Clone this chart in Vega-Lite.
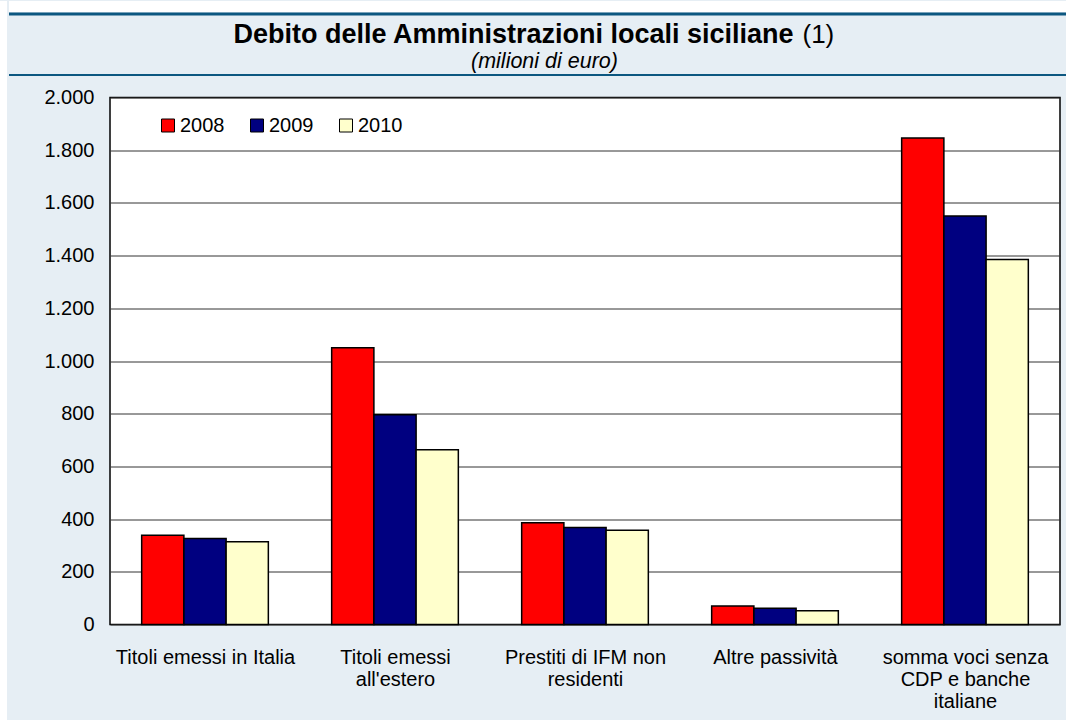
{
  "$schema": "https://vega.github.io/schema/vega-lite/v6.json",
  "background": "#E6EEF4",
  "padding": 0,
  "config": {"font": "Liberation Sans", "view": {"stroke": null}},
  "spacing": 0,
  "resolve": {"scale": {"color": "independent"}, "legend": {"color": "independent"}},
  "hconcat": [
    {
      "width": 7,
      "height": 720,
      "view": {"fill": "white", "stroke": null},
      "data": {"values": [{}]},
      "mark": {"type": "text", "text": ""},
      "encoding": {}
    },
    {
      "spacing": 10.5,
      "resolve": {"scale": {"color": "independent"}, "legend": {"color": "independent"}},
      "vconcat": [
        {
          "spacing": 0,
          "vconcat": [
            {
              "width": 1059,
              "height": 11,
              "view": {"fill": "white", "stroke": null},
              "data": {"values": [{}]},
              "mark": {"type": "text", "text": ""},
              "encoding": {}
            },
            {
              "width": 1059,
              "height": 61,
              "view": {"stroke": null},
              "data": {"values": [{}]},
              "layer": [
                {
                  "mark": {"type": "rule", "color": "#0C5780", "strokeWidth": 3},
                  "encoding": {"y": {"datum": 1, "type": "quantitative", "scale": {"domain": [0, 1]}, "axis": null}}
                },
                {
                  "mark": {"type": "rule", "color": "#0C5780", "strokeWidth": 2},
                  "encoding": {"y": {"datum": 0, "type": "quantitative", "axis": null}}
                },
                {
                  "mark": {"type": "text", "text": "Debito delle Amministrazioni locali siciliane", "fontWeight": "bold", "fontSize": 27, "dx": -25, "dy": -10, "baseline": "middle", "color": "black"},
                  "encoding": {}
                },
                {
                  "mark": {"type": "text", "text": "(1)", "fontSize": 26, "align": "left", "dx": 264, "dy": -10, "baseline": "middle", "color": "black"},
                  "encoding": {}
                },
                {
                  "mark": {"type": "text", "text": "(milioni di euro)", "fontStyle": "italic", "fontSize": 21.5, "dx": 6, "dy": 17, "baseline": "middle", "color": "black"},
                  "encoding": {}
                }
              ]
            }
          ]
        },
        {
          "spacing": 0,
          "resolve": {"scale": {"color": "independent"}, "legend": {"color": "independent"}},
          "hconcat": [
            {
              "width": 34,
              "height": 1,
              "view": {"stroke": null},
              "data": {"values": [{}]},
              "mark": {"type": "text", "text": ""},
              "encoding": {}
            },
            {
              "width": 950,
              "height": 527,
              "view": {"fill": "white", "stroke": "black", "strokeWidth": 1.5},
              "data": {
                "values": [
                  {"cat": "Titoli emessi in Italia", "year": "2008", "v": 339},
                  {"cat": "Titoli emessi in Italia", "year": "2009", "v": 326},
                  {"cat": "Titoli emessi in Italia", "year": "2010", "v": 314},
                  {"cat": "Titoli emessi|all'estero", "year": "2008", "v": 1050},
                  {"cat": "Titoli emessi|all'estero", "year": "2009", "v": 796},
                  {"cat": "Titoli emessi|all'estero", "year": "2010", "v": 663},
                  {"cat": "Prestiti di IFM non|residenti", "year": "2008", "v": 386},
                  {"cat": "Prestiti di IFM non|residenti", "year": "2009", "v": 368},
                  {"cat": "Prestiti di IFM non|residenti", "year": "2010", "v": 358},
                  {"cat": "Altre passività", "year": "2008", "v": 70},
                  {"cat": "Altre passività", "year": "2009", "v": 62},
                  {"cat": "Altre passività", "year": "2010", "v": 52},
                  {"cat": "somma voci senza|CDP e banche|italiane", "year": "2008", "v": 1846},
                  {"cat": "somma voci senza|CDP e banche|italiane", "year": "2009", "v": 1550},
                  {"cat": "somma voci senza|CDP e banche|italiane", "year": "2010", "v": 1385}
                ]
              },
              "mark": {"type": "bar", "stroke": "black", "strokeWidth": 1.5},
              "encoding": {
                "x": {
                  "field": "cat", "type": "nominal", "sort": null, "title": null,
                  "scale": {"paddingInner": 0.3333, "paddingOuter": 0.1667},
                  "axis": {
                    "labelExpr": "split(datum.label, '|')",
                    "labelFontSize": 20, "labelColor": "black", "labelAngle": 0, "labelLimit": 0,
                    "labelLineHeight": 22, "labelPadding": 29.5,
                    "tickBand": "extent", "tickSize": -7, "tickColor": "#444444",
                    "domain": false, "grid": false
                  }
                },
                "xOffset": {"field": "year", "type": "nominal", "scale": {"paddingInner": 0, "paddingOuter": 0}},
                "y": {
                  "field": "v", "type": "quantitative", "title": null,
                  "scale": {"domain": [0, 2000], "nice": false},
                  "axis": {
                    "values": [0, 200, 400, 600, 800, 1000, 1200, 1400, 1600, 1800, 2000],
                    "labelExpr": "replace(format(datum.value, ','), ',', '.')",
                    "labelFontSize": 20, "labelColor": "black", "labelPadding": 16,
                    "ticks": false, "domain": false,
                    "grid": true, "gridColor": "#333333", "gridWidth": 1, "gridOpacity": 1
                  }
                },
                "color": {
                  "field": "year", "type": "nominal",
                  "scale": {"domain": ["2008", "2009", "2010"], "range": ["#FF0000", "#000080", "#FFFFCC"]},
                  "legend": {
                    "title": null, "orient": "none", "legendX": 48, "legendY": 18,
                    "direction": "horizontal", "symbolType": "square", "symbolSize": 169,
                    "symbolStrokeColor": "black", "symbolStrokeWidth": 1, "symbolOpacity": 1,
                    "labelFontSize": 20, "labelColor": "black", "labelOffset": 2, "columnPadding": 22
                  }
                }
              }
            }
          ]
        }
      ]
    }
  ]
}
